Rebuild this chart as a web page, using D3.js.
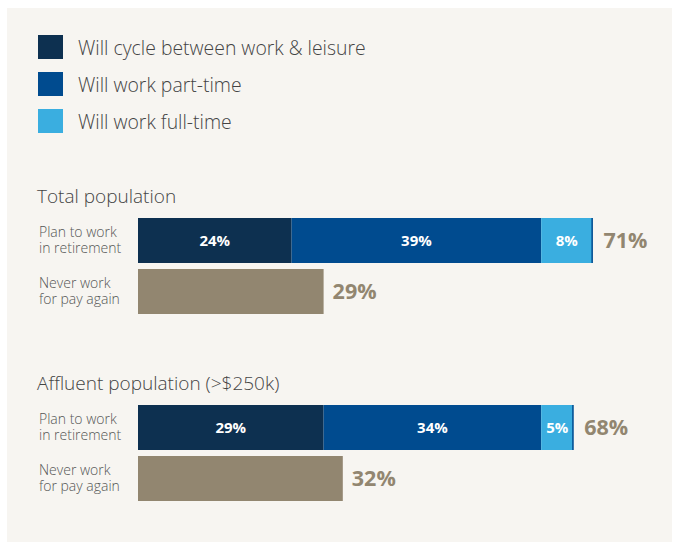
<!DOCTYPE html>
<html><head><meta charset="utf-8">
<script src="https://cdn.jsdelivr.net/npm/d3@7"></script>
<style>
html,body{margin:0;padding:0;background:#fff;}
svg{display:block;font-family:"Open Sans",sans-serif;}
</style></head>
<body><svg id="c" width="673" height="544"></svg>
<script>
const seriesNames = ["Will cycle between work & leisure","Will work part-time","Will work full-time"];
const seriesColors = ["#0d3050","#004b8f","#3aaee0"];
const groups = ["Total population","Affluent population (>$250k)"];
const rowLabels = [["Plan to work","in retirement"],["Never work","for pay again"]];
const planValues = [[24,39,8],[29,34,5]];
const planTotals = ["71%","68%"];
const neverValues = [29,32];
const neverColor = "#928670";

const svg = d3.select("#c");
svg.append("rect").attr("x",7).attr("y",8).attr("width",665).attr("height",534).attr("fill","#f7f5f1");

const x = d3.scaleLinear().domain([0,100]).range([138,138+640]);

// legend
const leg = svg.append("g");
seriesNames.forEach((n,i)=>{
  const y0 = 35 + i*37;
  leg.append("rect").attr("x",38).attr("y",y0).attr("width",25).attr("height",24).attr("fill",seriesColors[i]);
  leg.append("text").attr("x",78).attr("y",y0+19.5).attr("font-size",19.4).attr("font-weight",300)
    .attr("fill","#444").text(n);
});

const groupTop = [218,405];
groups.forEach((g,gi)=>{
  const top = groupTop[gi];
  svg.append("text").attr("x",37).attr("y",top-15).attr("font-size",19).attr("font-weight",300)
    .attr("fill","#444").text(g);
  // row labels
  [0,1].forEach(r=>{
    const by = top + r*51;
    const t = svg.append("text").attr("x",39).attr("y",by+19).attr("font-size",14).attr("font-weight",300)
      .attr("fill","#555");
    rowLabels[r].forEach((l,li)=>{
      t.append("tspan").attr("x",39).attr("dy",li===0?0:16).text(l);
    });
  });
  // stacked plan bar
  let acc = 0;
  planValues[gi].forEach((v,si)=>{
    const x0 = x(acc), x1 = x(acc+v);
    svg.append("rect").attr("x",x0).attr("y",top).attr("width",x1-x0).attr("height",45).attr("fill",seriesColors[si]);
    svg.append("text").attr("x",(x0+x1)/2).attr("y",top+28).attr("text-anchor","middle")
      .attr("font-size",15).attr("font-weight",700).attr("fill","#fff").text(v+"%");
    acc += v;
  });
  svg.append("rect").attr("x",x(acc)-1).attr("y",top).attr("width",1.5).attr("height",45).attr("fill","#004b8f");
  svg.append("text").attr("x",x(acc)+11).attr("y",top+30).attr("font-size",21.5).attr("font-weight",700)
    .attr("fill",neverColor).text(planTotals[gi]);
  // never bar
  const ny = top + 51;
  svg.append("rect").attr("x",x(0)).attr("y",ny).attr("width",x(neverValues[gi])-x(0)).attr("height",45).attr("fill",neverColor);
  svg.append("text").attr("x",x(neverValues[gi])+9).attr("y",ny+30).attr("font-size",21.5).attr("font-weight",700)
    .attr("fill",neverColor).text(neverValues[gi]+"%");
});
</script></body></html>
